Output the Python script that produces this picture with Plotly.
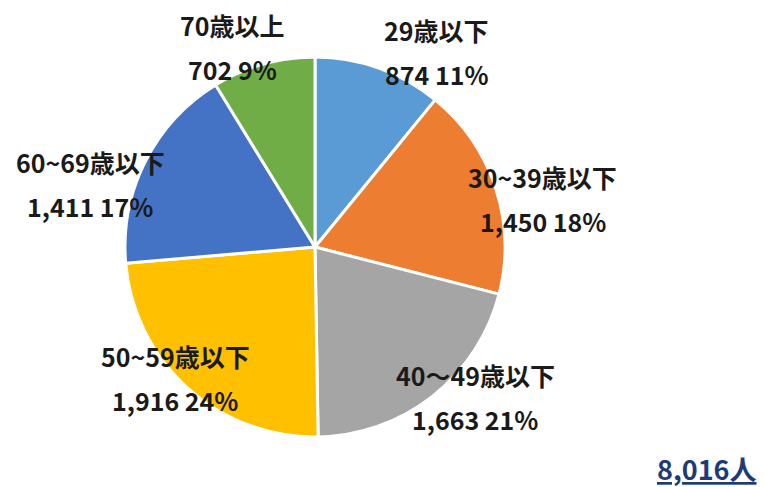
"""年齢別構成の円グラフ"""

import math

import plotly.graph_objects as go

# データ
labels = ["29歳以下", "30~39歳以下", "40～49歳以下", "50~59歳以下", "60~69歳以下", "70歳以上"]
values = [874, 1450, 1663, 1916, 1411, 702]
percents = ["11%", "18%", "21%", "24%", "17%", "9%"]
colors = ["#5B9BD5", "#ED7D31", "#A5A5A5", "#FFC000", "#4472C4", "#70AD47"]

W, H = 765, 487
cx, cy, radius = 315, 247, 190
font_family = "Noto Sans CJK JP"

# ラベル位置の微調整 (px)
label_radius = 225
nudges = [(46, 17), (14, 22), (21, -27), (11, -36), (-24, 38), (-21, 17)]

fig = go.Figure(
    go.Pie(
        labels=labels,
        values=values,
        sort=False,
        direction="clockwise",
        rotation=0,
        marker=dict(colors=colors, line=dict(color="white", width=3)),
        textinfo="none",
        hoverinfo="label+value+percent",
        domain=dict(
            x=[(cx - radius) / W, (cx + radius) / W],
            y=[1 - (cy + radius) / H, 1 - (cy - radius) / H],
        ),
        showlegend=False,
    )
)

# ラベル (スライス中央角から計算)
total = sum(values)
cum = 0
for i, (lab, val, pct) in enumerate(zip(labels, values, percents)):
    mid = (cum + val / 2) / total * 2 * math.pi
    cum += val
    px_ = cx + label_radius * math.sin(mid) + nudges[i][0]
    py_ = cy - label_radius * math.cos(mid) + nudges[i][1]
    for text, off in ((lab, -22), (f"{val:,} {pct}", 22)):
        fig.add_annotation(
            x=px_ / W,
            y=1 - (py_ + off) / H,
            xref="paper",
            yref="paper",
            xanchor="center",
            yanchor="middle",
            text=f"<b>{text}</b>",
            showarrow=False,
            font=dict(size=25, color="#1a1a1a", family=font_family),
        )

# 合計
fig.add_annotation(
    x=707 / W,
    y=1 - 468 / H,
    xref="paper",
    yref="paper",
    xanchor="center",
    yanchor="middle",
    text=f"<b><u>{total:,}人</u></b>",
    showarrow=False,
    font=dict(size=27, color="#1F3A78", family=font_family),
)

fig.update_layout(
    width=W,
    height=H,
    margin=dict(l=0, r=0, t=0, b=0),
    paper_bgcolor="white",
    plot_bgcolor="white",
    font=dict(family=font_family),
)

fig.write_html(
    "out.html",
    config={"displayModeBar": False},
    post_script="document.body.style.margin='0';",
)
